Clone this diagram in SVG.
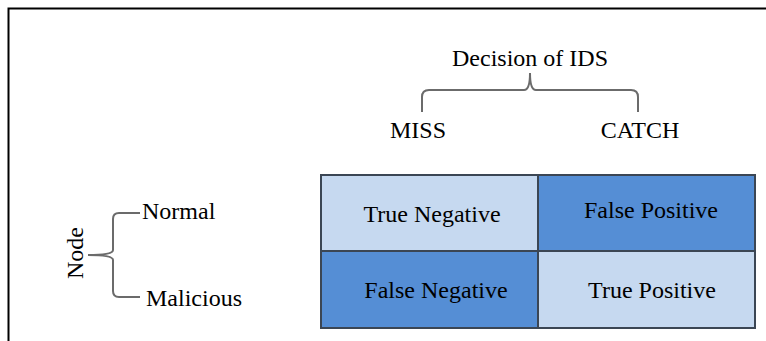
<svg xmlns="http://www.w3.org/2000/svg" width="766" height="341" viewBox="0 0 766 341">
<style>
text{font-family:"Liberation Serif","Times New Roman",serif;font-size:24px;fill:#000}
.light{fill:#C6D9F0;stroke:#3b4654;stroke-width:2}
.dark{fill:#558ED5;stroke:#3b4654;stroke-width:2}
.brace{fill:none;stroke:#6b6b6b;stroke-width:2}
</style>
<rect width="766" height="341" fill="#fff"/>
<path d="M8.5,341 V8.5 H766" fill="none" stroke="#000" stroke-width="2"/>
<g id="header">
<text x="530" y="66" text-anchor="middle">Decision of IDS</text>
</g>
<g id="connectors">
<path class="brace" d="M422,112 V97 Q422,90 429,90 H524 Q530,90 530,73 Q530,90 536,90 H631 Q638,90 638,97 V112"/>
<path class="brace" d="M140,213 H119 Q113,213 113,219 V250 Q113,255 88,255 Q113,255 113,260 V291 Q113,297 119,297 H140"/>
</g>
<g id="miss"><text x="418" y="138" text-anchor="middle">MISS</text></g>
<g id="catch"><text x="640" y="138" text-anchor="middle">CATCH</text></g>
<g id="node"><text transform="translate(83,253) rotate(-90)" text-anchor="middle">Node</text></g>
<g id="normal"><text x="142" y="219">Normal</text></g>
<g id="malicious"><text x="146" y="306">Malicious</text></g>
<g id="tn"><rect class="light" x="321" y="175" width="217" height="76"/><text x="432" y="222" text-anchor="middle">True Negative</text></g>
<g id="fp"><rect class="dark" x="538" y="175" width="217" height="76"/><text x="651" y="218" text-anchor="middle">False Positive</text></g>
<g id="fn"><rect class="dark" x="321" y="251" width="217" height="77"/><text x="436" y="298" text-anchor="middle">False Negative</text></g>
<g id="tp"><rect class="light" x="538" y="251" width="217" height="77"/><text x="652" y="298" text-anchor="middle">True Positive</text></g>
</svg>
